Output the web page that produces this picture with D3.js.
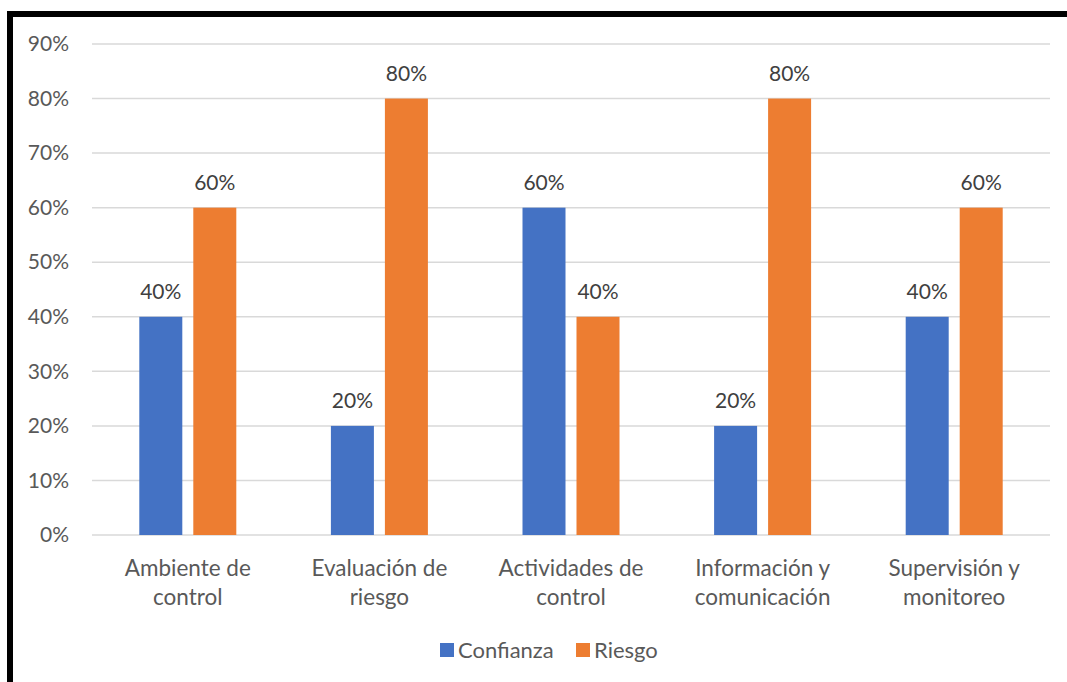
<!DOCTYPE html>
<html>
<head>
<meta charset="utf-8">
<script src="https://cdn.jsdelivr.net/npm/d3@7/dist/d3.min.js"></script>
<style>
  html, body { margin: 0; padding: 0; background: #fff; }
  svg { display: block; }
</style>
</head>
<body>
<svg id="chart" width="1067" height="682"></svg>
<script>
// Component categories (two-line labels)
const categories = [
  ["Ambiente de", "control"],
  ["Evaluación de", "riesgo"],
  ["Actividades de", "control"],
  ["Información y", "comunicación"],
  ["Supervisión y", "monitoreo"]
];
const seriesNames = ["Confianza", "Riesgo"];
const confianza = [0.40, 0.20, 0.60, 0.20, 0.40];
const riesgo = [0.60, 0.80, 0.40, 0.80, 0.60];
const yTicks = [0, 0.1, 0.2, 0.3, 0.4, 0.5, 0.6, 0.7, 0.8, 0.9];

const colors = ["#4472C4", "#ED7D31"];
const font = "Lato, 'Open Sans', sans-serif";

const svg = d3.select("#chart");

// outer frame (top and left edges visible)
svg.append("rect")
  .attr("x", 10).attr("y", 14)
  .attr("width", 1100).attr("height", 700)
  .attr("fill", "none").attr("stroke", "#000").attr("stroke-width", 6);

const plot = { left: 92, right: 1050, top: 44, bottom: 535 };

const x0 = d3.scaleBand()
  .domain(d3.range(categories.length))
  .range([plot.left, plot.right])
  .paddingInner(0).paddingOuter(0);

const y = d3.scaleLinear().domain([0, 0.9]).range([plot.bottom, plot.top]);

const barW = 43, gap = 11;
const x1 = d3.scaleOrdinal().domain([0, 1]).range([-(barW + gap / 2), gap / 2]);

// gridlines
svg.append("g")
  .selectAll("line")
  .data(yTicks)
  .join("line")
  .attr("x1", plot.left).attr("x2", plot.right)
  .attr("y1", d => y(d)).attr("y2", d => y(d))
  .attr("stroke", "#d9d9d9").attr("stroke-width", 1.5);

// y axis labels
const yAxis = d3.axisLeft(y).tickValues(yTicks).tickFormat(d3.format(".0%")).tickSize(0).tickPadding(23);
const gy = svg.append("g").attr("transform", `translate(${plot.left},0)`).call(yAxis);
gy.select(".domain").remove();
gy.selectAll("text")
  .attr("fill", "#595959")
  .attr("font-family", font)
  .attr("font-size", 21);

// bars
const series = [confianza, riesgo];
const groups = svg.append("g")
  .selectAll("g")
  .data(series)
  .join("g")
  .attr("fill", (d, i) => colors[i]);

groups.each(function (vals, si) {
  const g = d3.select(this);
  g.selectAll("rect")
    .data(vals)
    .join("rect")
    .attr("x", (d, i) => x0(i) + x0.bandwidth() / 2 + x1(si))
    .attr("y", d => y(d))
    .attr("width", barW)
    .attr("height", d => y(0) - y(d));
  g.selectAll("text")
    .data(vals)
    .join("text")
    .attr("x", (d, i) => x0(i) + x0.bandwidth() / 2 + x1(si) + barW / 2)
    .attr("y", d => y(d) - 18)
    .attr("text-anchor", "middle")
    .attr("fill", "#404040")
    .attr("font-family", font)
    .attr("font-size", 21)
    .text(d => d3.format(".0%")(d));
});

// category labels
const cat = svg.append("g")
  .selectAll("text")
  .data(categories)
  .join("text")
  .attr("x", (d, i) => x0(i) + x0.bandwidth() / 2)
  .attr("y", 576)
  .attr("text-anchor", "middle")
  .attr("fill", "#595959")
  .attr("font-family", font)
  .attr("font-size", 22.5);
cat.selectAll("tspan")
  .data(d => d)
  .join("tspan")
  .attr("x", function () { return d3.select(this.parentNode).attr("x"); })
  .attr("dy", (d, i) => i === 0 ? 0 : 29)
  .text(d => d);

// legend
const legendItems = [
  { name: seriesNames[0], color: colors[0], x: 440 },
  { name: seriesNames[1], color: colors[1], x: 576 }
];
const lg = svg.append("g")
  .selectAll("g")
  .data(legendItems)
  .join("g")
  .attr("transform", d => `translate(${d.x},643)`);
lg.append("rect").attr("width", 14).attr("height", 14).attr("fill", d => d.color);
lg.append("text")
  .attr("x", 18).attr("y", 15)
  .attr("fill", "#595959")
  .attr("font-family", font)
  .attr("font-size", 22)
  .text(d => d.name);
</script>
</body>
</html>
